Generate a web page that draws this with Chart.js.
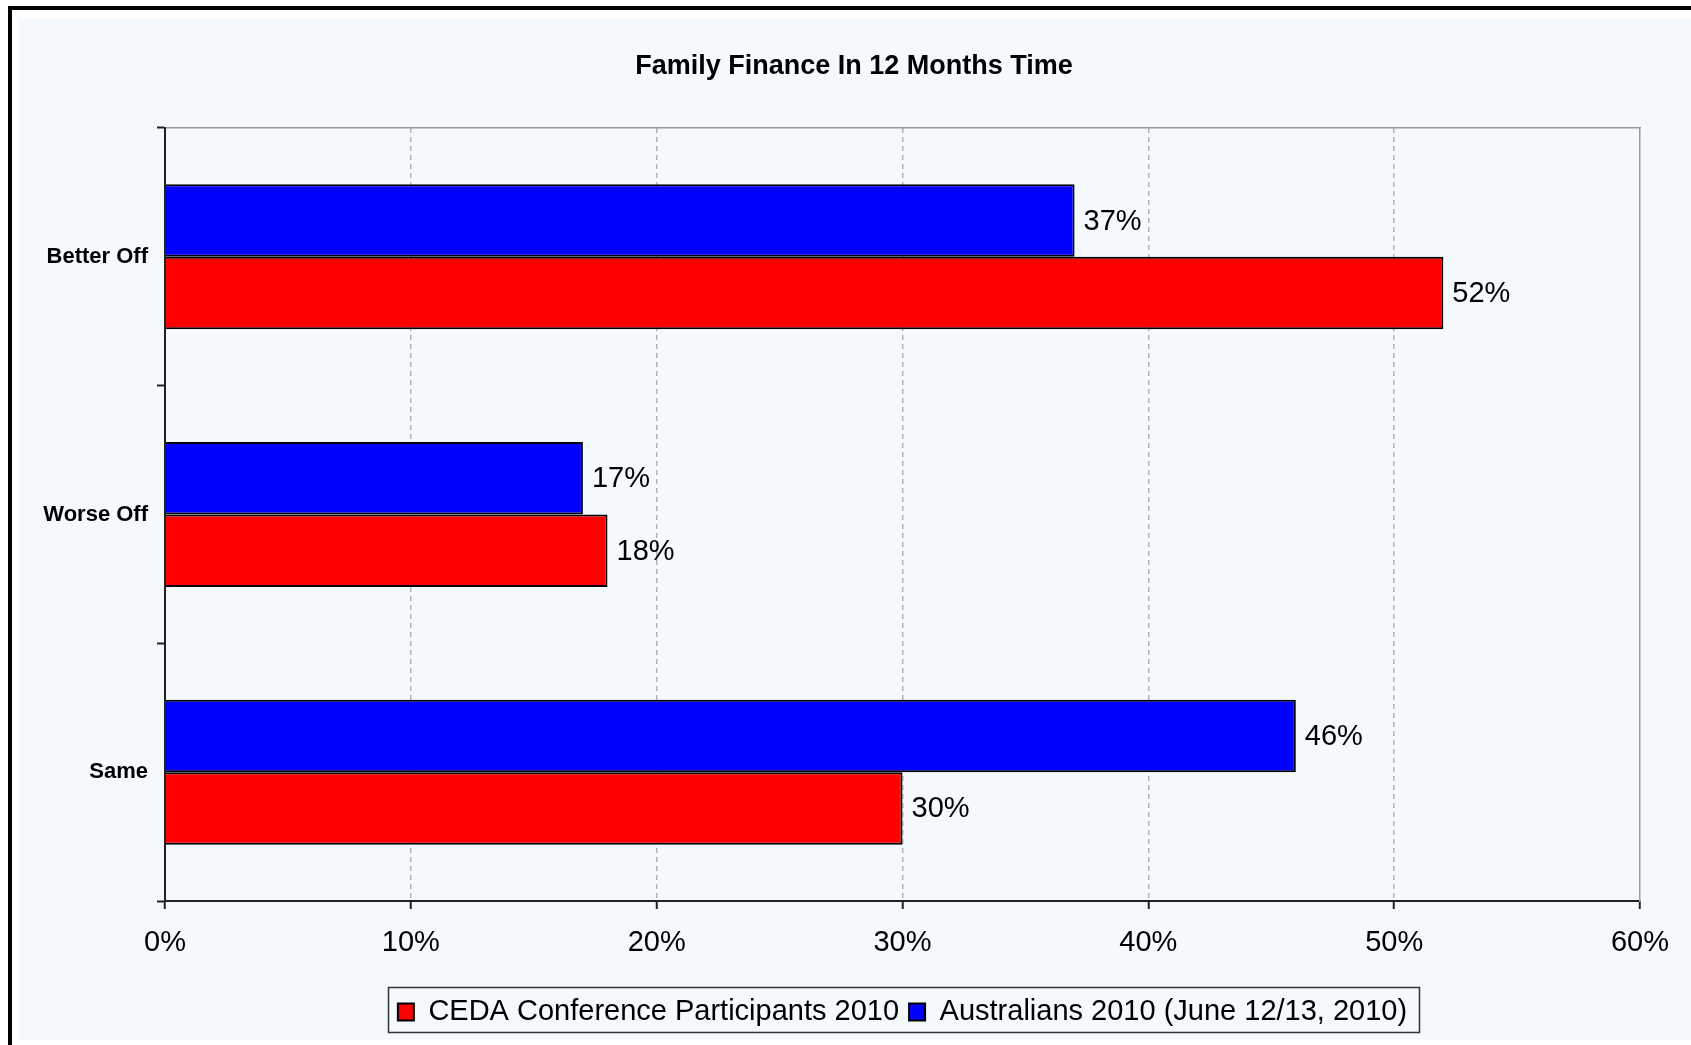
<!DOCTYPE html>
<html>
<head>
<meta charset="utf-8">
<title>Family Finance In 12 Months Time</title>
<script src="https://cdn.jsdelivr.net/npm/chart.js@4.4.1/dist/chart.umd.min.js"></script>
<style>
  html, body { margin: 0; padding: 0; background: #fff; }
  canvas { display: block; }
</style>
</head>
<body>
<canvas id="chart" width="1691" height="1045"></canvas>
<script>
const categories = ["Better Off", "Worse Off", "Same"];
const cedaValues = [52, 18, 30];
const australiansValues = [37, 17, 46];
const seriesNames = ["CEDA Conference Participants 2010", "Australians 2010 (June 12/13, 2010)"];
const xTicks = [0, 10, 20, 30, 40, 50, 60];

const family = "'Liberation Sans', Arial, sans-serif";
const axisColor = "#222222";
const frameColor = "#9a9a9a";

// page background + the black frame on the top/left edge
const backdrop = {
  id: "backdrop",
  beforeDraw(chart) {
    const { ctx, width, height } = chart;
    ctx.save();
    ctx.fillStyle = "#ffffff";
    ctx.fillRect(0, 0, width, height);
    ctx.fillStyle = "#f4f9fd";
    ctx.fillRect(19, 19, width - 19, 1040 - 19);
    ctx.fillStyle = "#000000";
    ctx.fillRect(8, 6, width - 8, 4);
    ctx.fillRect(8, 6, 4, height - 6);
    ctx.restore();
  },
};

// "37%" style labels to the right of each bar
const valueLabels = {
  id: "valueLabels",
  afterDatasetsDraw(chart) {
    const ctx = chart.ctx;
    ctx.save();
    ctx.font = `29px ${family}`;
    ctx.fillStyle = "#000";
    ctx.textAlign = "left";
    ctx.textBaseline = "middle";
    chart.data.datasets.forEach((ds, i) => {
      chart.getDatasetMeta(i).data.forEach((bar, j) => {
        ctx.fillText(`${ds.data[j]}%`, bar.x + 9, bar.y + 1);
      });
    });
    ctx.restore();
  },
};

// thin box round the legend items
const legendBox = {
  id: "legendBox",
  afterDraw(chart) {
    const lg = chart.legend;
    if (!lg || !lg.legendHitBoxes.length) return;
    const boxes = lg.legendHitBoxes;
    const left = Math.min(...boxes.map((b) => b.left)) - 10;
    const right = Math.max(...boxes.map((b) => b.left + b.width)) + 12;
    const ctx = chart.ctx;
    ctx.save();
    ctx.strokeStyle = "#333";
    ctx.lineWidth = 1.5;
    ctx.strokeRect(Math.round(left) + 0.5, Math.round(lg.top - 0.5) + 0.5, Math.round(right - left), 45);
    ctx.restore();
  },
};

new Chart(document.getElementById("chart"), {
  type: "bar",
  data: {
    labels: categories,
    datasets: [
      {
        label: seriesNames[1],
        data: australiansValues,
        backgroundColor: "#0000ff",
        borderColor: "#000000",
        borderWidth: 2,
      },
      {
        label: seriesNames[0],
        data: cedaValues,
        backgroundColor: "#ff0000",
        borderColor: "#000000",
        borderWidth: 2,
      },
    ],
  },
  options: {
    indexAxis: "y",
    responsive: false,
    animation: false,
    devicePixelRatio: 1,
    categoryPercentage: 0.5627,
    barPercentage: 1,
    layout: { padding: { left: 19, right: 2, top: 0, bottom: 8.5 } },
    scales: {
      x: {
        position: "bottom",
        min: xTicks[0],
        max: xTicks[xTicks.length - 1],
        ticks: {
          stepSize: xTicks[1] - xTicks[0],
          color: "#000",
          font: { family, size: 29 },
          padding: 17,
          callback: (v) => `${v}%`,
        },
        grid: {
          color: (c) => (c.tick && (c.tick.value === xTicks[0] || c.tick.value === xTicks[xTicks.length - 1]) ? "rgba(0,0,0,0)" : "#b3b3b3"),
          lineWidth: 1.5,
          tickColor: axisColor,
          tickWidth: 2,
          tickLength: 8,
        },
        border: { color: axisColor, width: 2, dash: [5, 4] },
        afterFit: (s) => { s.height = 86.5; },
      },
      x2: {
        position: "top",
        type: "linear",
        min: 0,
        max: 60,
        ticks: { display: false },
        grid: { drawOnChartArea: false, drawTicks: false },
        border: { color: frameColor, width: 1.5 },
        afterFit: (s) => { s.height = 0; },
      },
      y: {
        position: "left",
        ticks: {
          color: "#000",
          font: { family, size: 22, weight: "bold" },
          padding: 9,
          autoSkip: false,
        },
        grid: {
          drawOnChartArea: false,
          drawTicks: true,
          tickLength: 8,
          tickColor: axisColor,
          tickWidth: 2,
          offset: true,
        },
        border: { color: axisColor, width: 2 },
        afterFit: (s) => { s.width = 146; },
      },
      y2: {
        position: "right",
        type: "linear",
        min: 0,
        max: 1,
        ticks: { display: false },
        grid: { drawOnChartArea: false, drawTicks: false },
        border: { color: frameColor, width: 1.5 },
        afterFit: (s) => { s.width = 49; },
      },
    },
    plugins: {
      title: {
        display: true,
        text: "Family Finance In 12 Months Time",
        color: "#000",
        font: { family, size: 27, weight: "bold", lineHeight: 1.2 },
        padding: { top: 50, bottom: 45.6 },
      },
      legend: {
        position: "bottom",
        fullSize: false,
        reverse: true,
        labels: {
          color: "#000",
          font: { family, size: 29 },
          boxWidth: 16,
          boxHeight: 17,
          padding: 10,
        },
      },
      tooltip: { enabled: false },
    },
  },
  plugins: [backdrop, valueLabels, legendBox],
});
</script>
</body>
</html>
